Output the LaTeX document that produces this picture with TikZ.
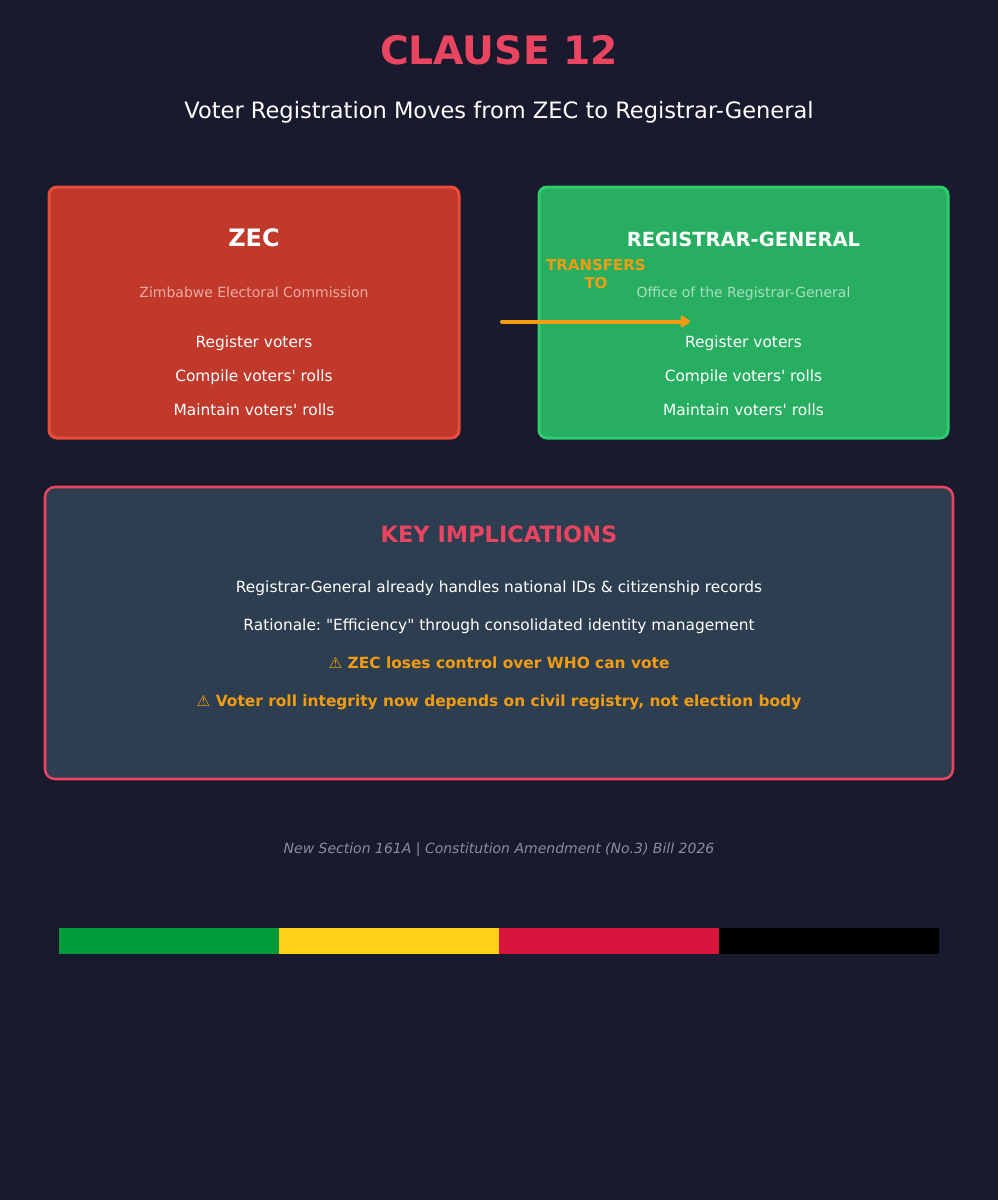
\documentclass[tikz,border=0pt]{standalone}
\usepackage{fontspec}
\setmainfont{DejaVu Sans}
\usetikzlibrary{arrows.meta}
\frenchspacing

\definecolor{bgnavy}{HTML}{1A1A2E}
\definecolor{clausered}{HTML}{E94560}
\definecolor{zecfill}{HTML}{C0392B}
\definecolor{zecline}{HTML}{E74C3C}
\definecolor{zecsub}{HTML}{F0AAA0}
\definecolor{rgfill}{HTML}{27AE60}
\definecolor{rgline}{HTML}{2ECC71}
\definecolor{rgsub}{HTML}{A9DFBF}
\definecolor{keyfill}{HTML}{2C3E50}
\definecolor{warnorange}{HTML}{F39C12}
\definecolor{footgray}{HTML}{8A8D99}
\definecolor{flaggreen}{HTML}{009A3B}
\definecolor{flagyellow}{HTML}{FDD116}
\definecolor{flagred}{HTML}{D9143C}

\begin{document}
\begin{tikzpicture}[x=0.75pt, y=-0.75pt,
    txt/.style={inner sep=0pt, anchor=base, text=white},
    bigtitle/.style={txt, text=clausered, font=\fontsize{29.4}{35}\selectfont\bfseries},
    subtitle/.style={txt, font=\fontsize{16.9}{20}\selectfont},
    boxhead/.style={txt, font=\fontsize{18}{22}\selectfont\bfseries},
    boxsub/.style={txt, font=\fontsize{10.5}{13}\selectfont},
    item/.style={txt, font=\fontsize{11.55}{14}\selectfont},
    warn/.style={txt, text=warnorange, font=\fontsize{11.55}{14}\selectfont\bfseries},
    panel/.style={line width=2.25pt, rounded corners=6pt}]

    \fill[bgnavy] (0,0) rectangle (998,1200);
    \useasboundingbox (0,0) rectangle (998,1200);

    % heading
    \node[bigtitle] (clause) at (499,64) {CLAUSE 12};
    \node[subtitle] (moves) at (499,118) {Voter Registration Moves from ZEC to Registrar-General};

    % the two offices
    \draw[panel, fill=zecfill, draw=zecline] (49,187) rectangle (459,438);
    \draw[panel, fill=rgfill, draw=rgline] (539,187) rectangle (948,438);

    \node[boxhead] (zec) at (254,246.5) {ZEC};
    \node[boxsub, text=zecsub] (zecname) at (254,297) {Zimbabwe Electoral Commission};
    \node[item] (zecreg) at (254,347) {Register voters};
    \node[item] (zeccomp) at (254,381) {Compile voters\textquotesingle{} rolls};
    \node[item] (zecmaint) at (254,415) {Maintain voters\textquotesingle{} rolls};

    \node[boxhead, font=\fontsize{14.6}{18}\selectfont\bfseries] (rg) at (743.5,246.5) {REGISTRAR-GENERAL};
    \node[boxsub, text=rgsub] (rgname) at (743.5,297) {Office of the Registrar-General};
    \node[item] (rgreg) at (743.5,347) {Register voters};
    \node[item] (rgcomp) at (743.5,381) {Compile voters\textquotesingle{} rolls};
    \node[item] (rgmaint) at (743.5,415) {Maintain voters\textquotesingle{} rolls};

    % transfer arrow
    \coordinate (arrowtail) at (502,321.5);
    \coordinate (arrowtip) at (690,321.5);
    \draw[warnorange, line width=3pt, line cap=round, -{Triangle[length=8pt, width=10pt, round]}] (arrowtail) -- (arrowtip);
    \node[inner sep=0pt, align=center, text=warnorange, font=\fontsize{11.25}{13.5}\selectfont\bfseries] (transfers) at (596,274) {TRANSFERS\\TO};

    % implications
    \draw[fill=keyfill, draw=clausered, line width=1.9pt, rounded corners=7.5pt] (45,487) rectangle (953,779);
    \node[txt, text=clausered, font=\fontsize{16.85}{20}\selectfont\bfseries] (keyhead) at (499,542) {KEY IMPLICATIONS};
    \node[item] (imp1) at (499,592.5) {Registrar-General already handles national IDs \& citizenship records};
    \node[item] (imp2) at (499,630.5) {Rationale: \textquotedbl Efficiency\textquotedbl{} through consolidated identity management};
    \node[warn] (imp3) at (499,668.5) {{\mdseries ⚠} ZEC loses control over WHO can vote};
    \node[warn] (imp4) at (499,706.5) {{\mdseries ⚠} Voter roll integrity now depends on civil registry, not election body};

    % footer
    \node[txt, text=footgray, font=\fontsize{10.5}{13}\selectfont\itshape] (source) at (499,853) {New Section 161A | Constitution Amendment (No.3) Bill 2026};

    % flag stripe
    \foreach \c [count=\i from 0] in {flaggreen,flagyellow,flagred,black}
        \fill[\c] ({59+220*\i},928) rectangle ({279+220*\i},953.5);
\end{tikzpicture}
\end{document}
